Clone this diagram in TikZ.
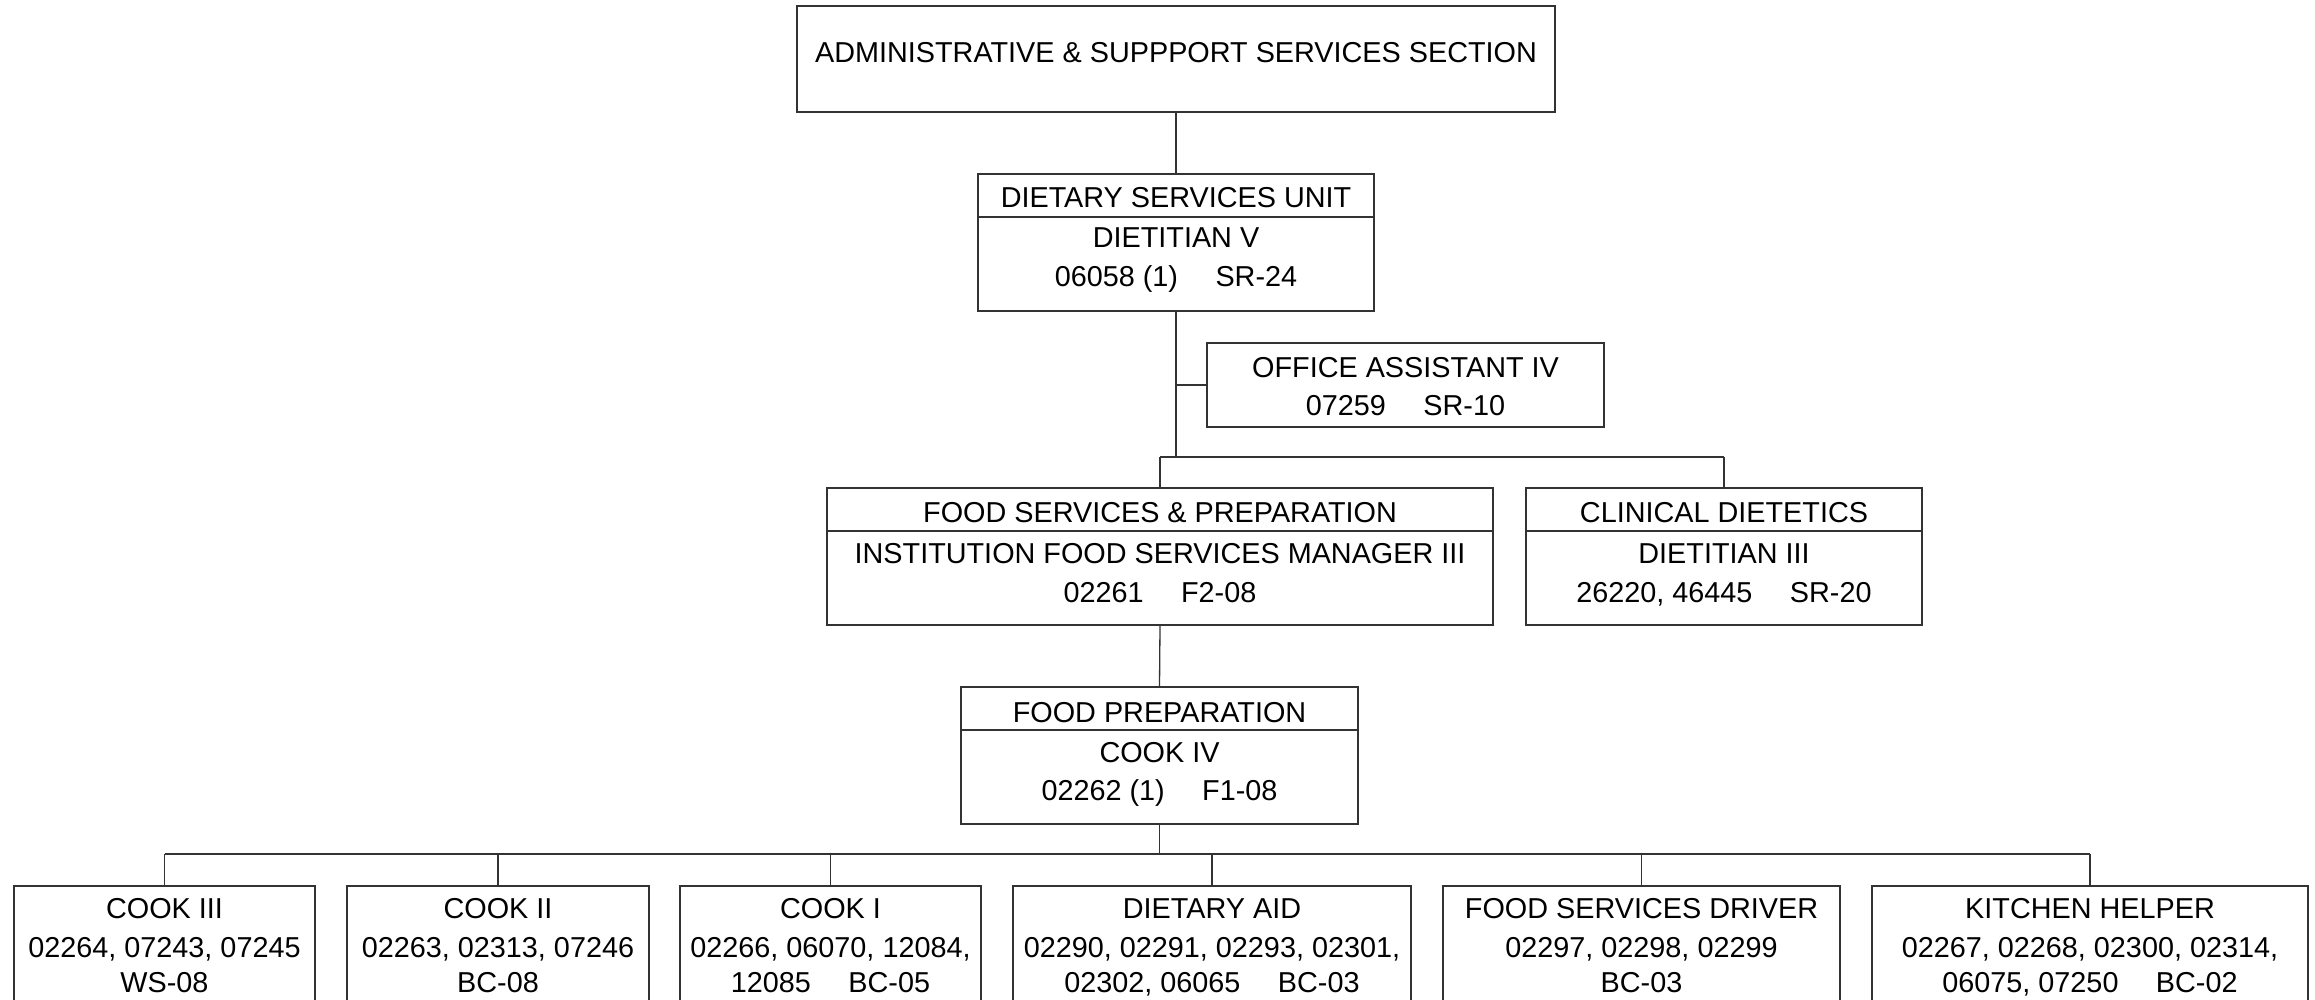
\documentclass[tikz,border=0pt]{standalone}
\usepackage{fontspec}
\setmainfont{Liberation Sans}
\definecolor{ln}{rgb}{0.2,0.2,0.2}
\tikzset{
  box/.style={draw=ln, line width=1.3pt, inner sep=0pt, fill=white},
  txt/.style={inner sep=0pt, anchor=base, font=\fontsize{28.8}{34}\selectfont, text=black},
  conn/.style={draw=ln, line width=1.3pt},
}
\newcommand{\gap}{\hspace{1.3em}}
\begin{document}
\begin{tikzpicture}[x=1pt,y=-1pt]
\useasboundingbox (0,0) rectangle (2315,1000);
\clip (0,0) rectangle (2315,1000);
\fill[white] (0,0) rectangle (2315,1000);

% boxes
\node[box, minimum width=758pt, minimum height=106pt] (top) at (1176,59) {};
\node[box, minimum width=396pt, minimum height=137pt] (dsu) at (1176,242.5) {};
\node[box, minimum width=397pt, minimum height=84pt] (oa) at (1405.5,385) {};
\node[box, minimum width=666pt, minimum height=137pt] (fsp) at (1160,556.5) {};
\node[box, minimum width=396pt, minimum height=137pt] (cd) at (1724,556.5) {};
\node[box, minimum width=397pt, minimum height=137pt] (fp) at (1159.5,755.5) {};
\node[box, minimum width=301pt, minimum height=137pt] (c3) at (164.5,954.5) {};
\node[box, minimum width=302pt, minimum height=137pt] (c2) at (498,954.5) {};
\node[box, minimum width=301pt, minimum height=137pt] (c1) at (830.5,954.5) {};
\node[box, minimum width=398pt, minimum height=137pt] (da) at (1212,954.5) {};
\node[box, minimum width=397pt, minimum height=137pt] (fsd) at (1641.5,954.5) {};
\node[box, minimum width=436pt, minimum height=137pt] (kh) at (2090,954.5) {};

% dividers
\draw[conn] (dsu.west |- 0,217) -- (dsu.east |- 0,217);
\draw[conn] (fsp.west |- 0,531) -- (fsp.east |- 0,531);
\draw[conn] (cd.west |- 0,531) -- (cd.east |- 0,531);
\draw[conn] (fp.west |- 0,730) -- (fp.east |- 0,730);

% connectors
\coordinate (j1) at (1176,457);
\coordinate (j2) at (1159.5,854);
\draw[conn] (top.south) -- (dsu.north);
\draw[conn] (dsu.south) -- (j1);
\draw[conn] (dsu.south |- oa.west) -- (oa.west);
\draw[conn] (fsp.north |- j1) -- (cd.north |- j1);
\draw[conn] (fsp.north |- j1) -- (fsp.north);
\draw[conn] (cd.north |- j1) -- (cd.north);
\draw[conn] (fsp.south) -- (fp.north);
\draw[conn] (fp.south) -- (j2);
\draw[conn] (c3.north |- j2) -- (kh.north |- j2);
\foreach \b in {c3,c2,c1,da,fsd,kh} \draw[conn] (\b.north |- j2) -- (\b.north);

% texts
\node[txt] (t0) at (1176,63) {ADMINISTRATIVE \& SUPPPORT SERVICES SECTION};
\node[txt] (t1a) at (1176,208) {DIETARY SERVICES UNIT};
\node[txt] (t1b) at (1176,248) {DIETITIAN V};
\node[txt] (t1c) at (1176,287) {06058 (1)\gap SR-24};
\node[txt] (t2a) at (1405.5,377) {OFFICE ASSISTANT IV};
\node[txt] (t2b) at (1405.5,415) {07259\gap SR-10};
\node[txt] (t3a) at (1160,522) {FOOD SERVICES \& PREPARATION};
\node[txt] (t3b) at (1160,563) {INSTITUTION FOOD SERVICES MANAGER III};
\node[txt] (t3c) at (1160,602) {02261\gap F2-08};
\node[txt] (t4a) at (1724,522) {CLINICAL DIETETICS};
\node[txt] (t4b) at (1724,563) {DIETITIAN III};
\node[txt] (t4c) at (1724,602) {26220, 46445\gap SR-20};
\node[txt] (t5a) at (1159.5,722) {FOOD PREPARATION};
\node[txt] (t5b) at (1159.5,762) {COOK IV};
\node[txt] (t5c) at (1159.5,800) {02262 (1)\gap F1-08};
\node[txt] (b1a) at (164.5,918) {COOK III};
\node[txt] (b1b) at (164.5,957) {02264, 07243, 07245};
\node[txt] (b1c) at (164.5,992) {WS-08};
\node[txt] (b2a) at (498,918) {COOK II};
\node[txt] (b2b) at (498,957) {02263, 02313, 07246};
\node[txt] (b2c) at (498,992) {BC-08};
\node[txt] (b3a) at (830.5,918) {COOK I};
\node[txt] (b3b) at (830.5,957) {02266, 06070, 12084,};
\node[txt] (b3c) at (830.5,992) {12085\gap BC-05};
\node[txt] (b4a) at (1212,918) {DIETARY AID};
\node[txt] (b4b) at (1212,957) {02290, 02291, 02293, 02301,};
\node[txt] (b4c) at (1212,992) {02302, 06065\gap BC-03};
\node[txt] (b5a) at (1641.5,918) {FOOD SERVICES DRIVER};
\node[txt] (b5b) at (1641.5,957) {02297, 02298, 02299};
\node[txt] (b5c) at (1641.5,992) {BC-03};
\node[txt] (b6a) at (2090,918) {KITCHEN HELPER};
\node[txt] (b6b) at (2090,957) {02267, 02268, 02300, 02314,};
\node[txt] (b6c) at (2090,992) {06075, 07250\gap BC-02};
\end{tikzpicture}
\end{document}
